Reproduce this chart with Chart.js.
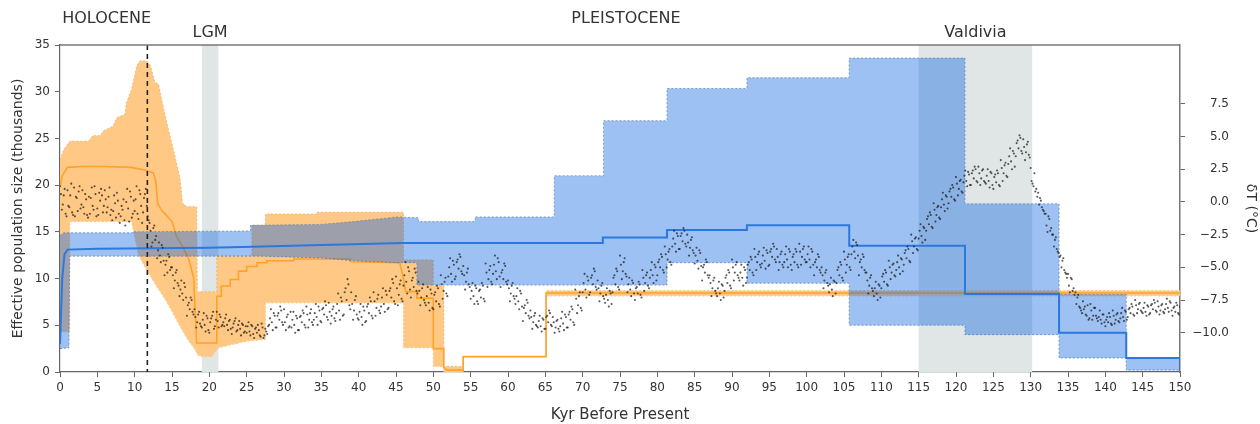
<!DOCTYPE html>
<html><head><meta charset="utf-8">
<script src="https://cdn.jsdelivr.net/npm/chart.js@4.4.1/dist/chart.umd.min.js"></script>
<style>html,body{margin:0;padding:0;background:#fff}#wrap{width:1260px;height:424px;position:relative}</style>
</head><body><div id="wrap"><canvas id="c"></canvas></div>
<script>
// ---------- data (kyr before present, value) ----------
const rightTicks = [-10, -7.5, -5, -2.5, 0, 2.5, 5, 7.5];
const eraLabels = [
  {text:'HOLOCENE', kyr:0.3, row:0, anchor:'left'},
  {text:'LGM', kyr:20.1, row:1, anchor:'center'},
  {text:'PLEISTOCENE', kyr:75.8, row:0, anchor:'center'},
  {text:'Valdivia', kyr:122.6, row:1, anchor:'center'}
];
const shadedPeriods = [[19, 21.2], [115, 130.2]];
const holoceneBoundary = 11.7;

const orangeMedian = [[0,19.8],[0.3,21.0],[1.0,21.9],[3,22.0],[6,22.0],[9.5,21.9],[11.5,21.6],[12.5,21.3],[12.8,20.5],[13.1,18.0],[13.6,17.3],[14.1,16.9],[15,16.1],[15.6,14.5],[16.3,13.6],[17.2,12.2],[17.9,10.1],[18.3,3.1],[21.0,3.1],[21.0,8.1],[21.6,8.1],[21.6,9.2],[22.8,9.2],[22.8,9.9],[23.9,9.9],[23.9,10.8],[25,10.8],[25,11.3],[26.4,11.3],[26.4,11.7],[27.7,11.7],[27.7,11.9],[31.3,11.9],[31.3,12.1],[38.9,12.1],[38.9,11.8],[45.5,11.7],[46,10.0],[46.3,8.6],[47.8,8.6],[47.8,7.9],[50,7.9],[50,2.5],[51.4,2.5],[51.4,0.5],[51.8,0.2],[54,0.2],[54,1.65],[65.1,1.65],[65.1,8.45],[150,8.45]];
const orangeUpper = [[0,22.7],[0.5,23.8],[1.3,24.7],[3.8,24.7],[4.4,25.3],[5.4,25.3],[5.8,25.8],[7.1,26.3],[7.6,27.2],[8.7,27.6],[8.9,28.8],[9.6,30.3],[10.3,32.8],[10.7,33.3],[11.6,33.3],[12.1,32.8],[12.7,31.0],[13.2,30.8],[13.6,29.2],[14.5,26.0],[15.4,23.1],[16.1,20.6],[16.4,18.1],[17.0,17.7],[18.3,17.7],[18.4,8.6],[21.0,8.6],[21.0,12.4],[25.7,12.4],[25.7,15.7],[27.5,15.7],[27.5,16.9],[34.4,16.9],[34.4,17.1],[46,17.1],[46,12.0],[50,12.0],[50,9.2],[51.4,9.2],[51.4,0.6],[54,0.6],[54,1.65],[65.1,1.65],[65.1,8.7],[150,8.7]];
const orangeLower = [[0,4.3],[1.3,4.3],[1.3,16.1],[9.6,16.1],[10.0,14.5],[10.5,12.6],[11,11.8],[12,10.4],[13,9.1],[14,7.9],[15,6.5],[16,5.0],[17,3.6],[18,2.5],[18.5,1.8],[19,1.65],[20.3,1.65],[21.2,2.6],[23.3,3.0],[25,3.3],[27.5,3.5],[27.5,7.4],[46,7.4],[46,2.6],[50,2.6],[50,0.6],[51.4,0.6],[51.4,0],[54,0],[54,1.65],[65.1,1.65],[65.1,8.15],[150,8.15]];

const blueMedian = [[0,3],[0.3,10],[0.6,12.6],[1.0,13.1],[5,13.2],[20,13.3],[25.7,13.4],[35,13.6],[46,13.8],[72.7,13.8],[72.7,14.4],[81.3,14.4],[81.3,15.2],[92,15.2],[92,15.7],[105.7,15.7],[105.7,13.5],[121.2,13.5],[121.2,8.35],[133.8,8.35],[133.8,4.2],[142.8,4.2],[142.8,1.5],[150,1.5]];
const blueUpper = [[0,14.6],[0.5,14.9],[9.8,14.9],[9.8,15.0],[25.5,15.1],[25.5,15.7],[34.9,15.8],[39.3,16.1],[45.2,16.6],[48,16.5],[48,16.1],[55.6,16.1],[55.6,16.6],[66.2,16.6],[66.2,21.0],[72.8,21.0],[72.8,26.9],[81.3,26.9],[81.3,30.35],[92,30.35],[92,31.5],[105.7,31.5],[105.7,33.6],[121.2,33.6],[121.2,18.0],[133.8,18.0],[133.8,8.3],[142.8,8.3],[142.8,1.5],[150,1.5]];
const blueLower = [[0,2.5],[1.2,2.6],[1.3,12.4],[27,12.4],[35,12.2],[39.3,11.9],[45.2,11.7],[47.8,11.7],[47.8,9.3],[81.3,9.3],[81.3,11.7],[92,11.7],[92,9.5],[105.7,9.5],[105.7,5.0],[121.2,5.0],[121.2,4.0],[133.8,4.0],[133.8,1.5],[142.8,1.5],[142.8,0.2],[150,0.2]];

// temperature anomaly (deg C), one row per kyr; samples at k + 0, .25, .5, .75
const tempRows = [
[1.2,-0.6,0.5,-0.9],[0.9,-0.4,1.4,-1.0],[-1.1,0.3,0.8,-0.5],[0.9,-0.9,0.2,-1.2],[-0.9,1.1,-0.6,0.6],
[-0.5,0.7,1.0,-0.8],[0.9,-0.8,0.4,-1.0],[-1.4,0.5,-1.2,0.1],[-1.6,-0.3,0.2,-1.8],[1.0,-1.5,0.4,-0.9],
[-0.7,1.2,-1.3,0.6],[-1.6,0.3,1.0,-1.1],[-1.6,-3.4,-2.0,-2.9],[-4.3,-3.1,-4.6,-3.5],[-5.6,-4.5,-4.0,-5.2],
[-5.0,-6.6,-5.4,-6.2],[-7.2,-6.0,-7.5,-6.5],[-8.7,-7.7,-7.3,-8.4],[-8.2,-9.6,-8.6,-9.3],[-9.6,-8.5,-9.9,-8.9],
[-10.0,-8.9,-8.4,-9.5],[-8.4,-9.6,-8.8,-9.4],[-9.5,-8.6,-9.8,-9.0],[-10.1,-9.3,-8.9,-9.8],[-9.1,-10.2,-9.4,-9.9],
[-10.0,-9.2,-10.2,-9.5],[-10.4,-9.6,-9.4,-10.2],[-9.3,-10.4,-9.7,-10.1],[-9.4,-8.2,-9.8,-8.7],[-9.6,-8.5,-8.0,-9.2],
[-8.2,-9.8,-8.6,-9.5],[-9.6,-8.4,-10.0,-8.9],[-9.8,-8.7,-8.3,-9.4],[-8.0,-9.6,-8.5,-9.2],[-9.0,-7.8,-9.4,-8.3],
[-9.2,-8.1,-7.6,-8.8],[-7.7,-9.3,-8.2,-8.9],[-8.5,-7.0,-9.0,-7.6],[-8.6,-6.6,-5.9,-7.9],[-6.9,-9.0,-7.5,-8.6],
[-9.0,-7.8,-9.4,-8.3],[-9.1,-7.8,-7.3,-8.7],[-6.9,-8.7,-7.4,-8.3],[-8.0,-6.6,-8.4,-7.1],[-8.1,-6.6,-5.9,-7.6],
[-5.7,-7.9,-6.3,-7.4],[-6.4,-4.6,-7.0,-5.3],[-7.3,-5.8,-5.1,-6.8],[-6.1,-7.9,-6.6,-7.5],[-7.9,-6.5,-8.3,-7.0],
[-8.2,-6.9,-6.4,-7.8],[-5.6,-7.4,-6.1,-7.0],[-5.7,-4.3,-6.1,-4.8],[-5.7,-4.4,-4.0,-5.3],[-4.9,-6.7,-5.4,-6.3],
[-7.4,-6.2,-7.8,-6.6],[-7.8,-6.7,-6.2,-7.4],[-4.7,-6.5,-5.2,-6.1],[-5.5,-4.1,-5.9,-4.6],[-6.5,-5.2,-4.7,-6.1],
[-6.0,-7.6,-6.4,-7.2],[-7.8,-6.6,-8.2,-7.0],[-9.1,-7.9,-7.5,-8.7],[-8.3,-9.7,-8.7,-9.4],[-9.6,-8.7,-9.9,-9.0],
[-9.7,-8.7,-8.3,-9.4],[-8.8,-10.0,-9.1,-9.7],[-9.5,-8.4,-9.8,-8.8],[-9.6,-8.4,-8.0,-9.2],[-6.7,-8.5,-7.2,-8.1],
[-6.9,-5.5,-7.3,-6.0],[-6.9,-5.6,-5.1,-6.5],[-6.0,-7.6,-6.4,-7.2],[-7.7,-6.6,-8.0,-7.0],[-6.9,-5.6,-5.1,-6.5],
[-4.1,-5.9,-4.6,-5.5],[-6.9,-5.8,-7.2,-6.2],[-7.5,-6.5,-6.1,-7.1],[-5.2,-6.8,-5.6,-6.4],[-5.8,-4.6,-6.2,-5.0],
[-5.6,-4.4,-4.0,-5.2],[-3.4,-5.0,-3.8,-4.6],[-3.4,-2.2,-3.8,-2.6],[-3.6,-2.4,-2.0,-3.2],[-2.5,-4.1,-2.9,-3.7],
[-4.7,-3.5,-5.1,-3.9],[-6.0,-4.8,-4.4,-5.6],[-5.6,-7.2,-6.0,-6.8],[-7.2,-6.1,-7.5,-6.4],[-6.8,-5.6,-5.2,-6.4],
[-4.4,-6.0,-4.8,-5.6],[-6.0,-4.8,-6.4,-5.2],[-5.8,-4.6,-4.2,-5.4],[-3.6,-5.2,-4.0,-4.8],[-4.7,-3.5,-5.1,-3.9],
[-4.8,-3.6,-3.2,-4.4],[-3.6,-5.2,-4.0,-4.8],[-4.6,-3.4,-5.0,-3.8],[-5.2,-4.0,-3.6,-4.8],[-3.2,-4.8,-3.6,-4.4],
[-4.6,-3.4,-5.0,-3.8],[-5.6,-4.4,-4.0,-5.2],[-5.0,-6.6,-5.4,-6.2],[-6.9,-5.8,-7.2,-6.1],[-6.2,-5.0,-4.6,-5.8],
[-3.8,-5.4,-4.2,-5.0],[-4.0,-2.9,-4.3,-3.3],[-5.6,-4.4,-4.0,-5.2],[-5.4,-7.0,-5.8,-6.6],[-7.2,-6.1,-7.5,-6.4],
[-6.6,-5.5,-5.2,-6.3],[-4.5,-5.9,-4.8,-5.6],[-5.2,-4.1,-5.5,-4.4],[-4.8,-3.7,-3.4,-4.5],[-2.5,-3.9,-2.8,-3.6],
[-2.8,-1.7,-3.1,-2.0],[-2.2,-1.1,-0.8,-1.9],[-0.1,-1.5,-0.4,-1.2],[-0.4,0.7,-0.7,0.4],[-0.1,1.0,1.3,0.2],
[1.9,0.5,1.6,0.8],[1.5,2.4,1.2,2.1],[1.3,2.4,2.7,1.6],[2.7,1.3,2.4,1.6],[1.4,2.5,1.1,2.2],
[1.0,2.1,2.4,1.3],[3.2,1.6,2.8,2.0],[2.9,4.1,2.5,3.7],[3.5,4.7,5.1,3.9],[4.8,3.2,4.4,3.6],
[2.6,1.4,2.2,1.0],[0.7,0.3,-0.4,-0.7],[-0.9,-2.3,-1.3,-2.0],[-2.5,-2.9,-3.6,-3.9],[-4.1,-4.5,-5.2,-5.5],
[-5.5,-6.9,-5.9,-6.6],[-6.9,-7.3,-8.0,-8.3],[-7.6,-8.0,-8.7,-9.0],[-7.8,-9.0,-8.1,-8.7],[-9.1,-8.3,-9.3,-8.6],
[-9.5,-8.8,-8.5,-9.3],[-8.3,-9.3,-8.6,-9.1],[-8.9,-8.1,-9.1,-8.4],[-8.8,-8.1,-7.8,-8.6],[-7.5,-8.5,-7.8,-8.3],
[-8.5,-7.7,-8.7,-8.0],[-8.5,-7.8,-7.5,-8.3],[-7.6,-8.6,-7.9,-8.4],[-8.2,-7.4,-8.4,-7.7],[-8.7,-8.0,-7.7,-8.5],
[-8.0]
];
// second pass of the cloud, samples at k + .125, .375, .625, .875
const tempRowsB = [
[0.6,-0.2,1.0,-1.1],[-0.3,0.5,-0.8,1.1],[0.4,-0.7,1.2,-0.2],[-0.4,0.6,-1.0,0.4],[0.3,-0.3,1.2,-1.1],
[-1.0,0.1,0.5,-0.3],[0.2,-0.4,1.1,-0.6],[-0.7,-0.1,0.7,-0.9],[-1.1,-0.6,-1.4,0.0],[-0.5,0.8,-1.2,0.1],
[0.2,-0.9,0.9,-0.3],[-0.8,0.6,-0.3,-1.4],[-2.2,-3.1,-1.8,-2.6],[-3.7,-4.1,-3.3,-4.5],[-4.8,-5.4,-4.2,-5.0],
[-5.6,-6.0,-5.2,-6.4],[-6.7,-7.0,-6.2,-7.3],[-7.9,-8.2,-7.5,-8.6],[-8.8,-9.2,-8.4,-9.5],[-9.0,-9.4,-8.7,-9.8],
[-9.2,-8.7,-9.7,-9.0],[-9.1,-8.6,-9.5,-9.2],[-8.9,-9.4,-9.1,-9.7],[-9.6,-9.1,-9.9,-9.4],[-9.7,-9.3,-10.0,-9.5],
[-9.5,-9.9,-9.4,-10.1],[-9.7,-10.0,-9.8,-10.3],[-9.6,-10.2,-9.9,-9.5],[-8.9,-9.2,-8.5,-9.6],[-8.7,-9.0,-8.3,-9.4],
[-9.2,-8.8,-9.6,-8.4],[-9.0,-9.4,-8.7,-9.8],[-8.8,-9.2,-8.5,-9.6],[-8.6,-9.0,-8.2,-9.4],[-8.5,-8.8,-8.0,-9.1],
[-8.2,-8.6,-7.9,-9.0],[-8.4,-8.7,-8.0,-9.1],[-7.8,-8.3,-7.3,-8.7],[-6.9,-7.5,-6.3,-8.2],[-7.8,-8.3,-7.2,-8.9],
[-8.4,-8.8,-8.0,-9.2],[-8.0,-8.5,-7.6,-8.9],[-7.6,-8.1,-7.1,-8.5],[-7.3,-7.8,-6.8,-8.2],[-6.8,-7.3,-6.2,-7.8],
[-6.6,-7.1,-6.0,-7.6],[-5.6,-6.1,-5.0,-6.7],[-6.0,-6.5,-5.4,-7.0],[-6.8,-7.3,-6.3,-7.7],[-7.2,-7.7,-6.7,-8.1],
[-7.1,-7.6,-6.6,-8.0],[-6.3,-6.8,-5.8,-7.2],[-5.0,-5.5,-4.5,-5.9],[-4.6,-5.1,-4.2,-5.5],[-5.6,-6.1,-5.1,-6.5],
[-6.8,-7.2,-6.4,-7.6],[-6.8,-7.3,-6.4,-7.6],[-5.4,-5.9,-4.9,-6.3],[-4.8,-5.3,-4.3,-5.7],[-5.4,-5.9,-4.9,-6.3],
[-6.6,-7.0,-6.2,-7.4],[-7.2,-7.6,-6.8,-8.0],[-8.1,-8.5,-7.7,-8.9],[-8.8,-9.2,-8.5,-9.5],[-9.1,-9.5,-8.9,-9.7],
[-8.8,-9.2,-8.5,-9.5],[-9.2,-9.6,-9.0,-9.9],[-8.9,-9.3,-8.6,-9.6],[-8.6,-9.0,-8.2,-9.4],[-7.4,-7.9,-6.9,-8.3],
[-6.2,-6.7,-5.7,-7.1],[-5.8,-6.3,-5.3,-6.7],[-6.6,-7.0,-6.2,-7.4],[-7.1,-7.5,-6.8,-7.8],[-5.8,-6.3,-5.3,-6.7],
[-4.8,-5.3,-4.3,-5.7],[-6.3,-6.7,-6.0,-7.0],[-6.6,-7.0,-6.3,-7.3],[-5.8,-6.2,-5.4,-6.6],[-5.2,-5.6,-4.8,-6.0],
[-4.6,-5.0,-4.2,-5.4],[-4.0,-4.4,-3.6,-4.8],[-2.8,-3.2,-2.4,-3.6],[-2.6,-3.0,-2.2,-3.4],[-3.1,-3.5,-2.7,-3.9],
[-4.1,-4.5,-3.7,-4.9],[-5.0,-5.4,-4.6,-5.8],[-6.2,-6.6,-5.8,-7.0],[-6.6,-7.0,-6.3,-7.3],[-5.8,-6.2,-5.4,-6.6],
[-5.0,-5.4,-4.6,-5.8],[-5.4,-5.8,-5.0,-6.2],[-4.8,-5.2,-4.4,-5.6],[-4.2,-4.6,-3.8,-5.0],[-4.1,-4.5,-3.7,-4.9],
[-3.8,-4.2,-3.4,-4.6],[-4.2,-4.6,-3.8,-5.0],[-4.0,-4.4,-3.6,-4.8],[-4.2,-4.6,-3.8,-5.0],[-3.8,-4.2,-3.4,-4.6],
[-4.0,-4.4,-3.6,-4.8],[-4.6,-5.0,-4.2,-5.4],[-5.6,-6.0,-5.2,-6.4],[-6.3,-6.7,-6.0,-7.0],[-5.2,-5.6,-4.8,-6.0],
[-4.4,-4.8,-4.0,-5.2],[-3.4,-3.8,-3.1,-4.1],[-4.6,-5.0,-4.2,-5.4],[-6.0,-6.4,-5.6,-6.8],[-6.6,-7.0,-6.3,-7.3],
[-5.7,-6.1,-5.4,-6.4],[-5.0,-5.4,-4.7,-5.7],[-4.6,-5.0,-4.3,-5.3],[-3.9,-4.3,-3.6,-4.6],[-3.0,-3.4,-2.7,-3.7],
[-2.2,-2.6,-1.9,-2.9],[-1.3,-1.7,-1.0,-2.0],[-0.6,-1.0,-0.3,-1.3],[0.2,-0.2,0.5,-0.5],[0.8,0.4,1.1,0.1],
[1.4,1.0,1.7,0.7],[2.0,1.6,2.3,1.3],[2.2,1.8,2.5,1.5],[2.2,1.8,2.5,1.5],[2.0,1.6,2.3,1.3],
[1.9,1.5,2.2,1.2],[2.6,2.2,3.0,1.9],[3.5,3.1,3.9,2.7],[4.5,4.1,4.9,3.7],[4.2,3.8,4.6,3.4],
[1.6,1.2,0.8,0.4],[-0.2,0.1,-0.6,-0.9],[-1.8,-1.1,-2.2,-2.5],[-3.4,-2.7,-3.8,-4.2],[-5.0,-4.3,-5.4,-5.8],
[-6.4,-5.8,-6.8,-7.1],[-7.8,-7.1,-8.1,-8.5],[-8.2,-8.6,-7.9,-8.9],[-8.3,-8.7,-8.1,-8.9],[-8.8,-9.0,-8.6,-9.2],
[-9.0,-9.2,-8.8,-9.4],[-8.7,-9.0,-8.5,-9.2],[-8.5,-8.8,-8.3,-9.0],[-8.2,-8.5,-8.0,-8.7],[-7.9,-8.2,-7.7,-8.4],
[-8.1,-8.4,-7.9,-8.6],[-7.9,-8.2,-7.7,-8.4],[-8.0,-8.3,-7.8,-8.5],[-7.8,-8.1,-7.6,-8.3],[-8.1,-8.4,-7.9,-8.6]
];

// ---------- build ----------
const xy = a => a.map(p => ({x: p[0], y: p[1]}));
const tempPoints = [];
tempRows.forEach((row, k) => row.forEach((v, j) => tempPoints.push({x: k + j * 0.25, y: v})));
tempRowsB.forEach((row, k) => row.forEach((v, j) => tempPoints.push({x: k + 0.125 + j * 0.25, y: v})));

Chart.defaults.font.family = '"DejaVu Sans", sans-serif';
Chart.defaults.color = '#333';

const bgPlugin = {
  id: 'bg',
  beforeDatasetsDraw(chart) {
    const {ctx, chartArea: a, scales: {x}} = chart;
    ctx.save();
    ctx.fillStyle = 'rgb(224,229,230)';
    shadedPeriods.forEach(([s, e]) => {
      const x0 = x.getPixelForValue(s), x1 = x.getPixelForValue(e);
      ctx.fillRect(x0, a.top, x1 - x0, a.bottom - a.top);
    });
    ctx.restore();
  },
  afterDatasetsDraw(chart) {
    const {ctx, chartArea: a, scales: {x}} = chart;
    ctx.save();
    const px = x.getPixelForValue(holoceneBoundary);
    ctx.strokeStyle = '#222'; ctx.lineWidth = 1.6; ctx.setLineDash([5, 4]);
    ctx.beginPath(); ctx.moveTo(px, a.top); ctx.lineTo(px, a.bottom); ctx.stroke();
    ctx.setLineDash([]);
    ctx.strokeStyle = '#777'; ctx.lineWidth = 1.5;
    ctx.beginPath(); ctx.moveTo(a.left, a.top); ctx.lineTo(a.right, a.top); ctx.stroke();
    ctx.fillStyle = '#333'; ctx.font = '16px "DejaVu Sans"'; ctx.textBaseline = 'middle';
    eraLabels.forEach(l => {
      ctx.textAlign = l.anchor;
      ctx.fillText(l.text, x.getPixelForValue(l.kyr), l.row === 0 ? 19 : 33);
    });
    ctx.restore();
  }
};

const lineDs = (data, o) => Object.assign({type: 'line', data: xy(data), pointRadius: 0, tension: 0, yAxisID: 'y'}, o);

new Chart(document.getElementById('c'), {
  type: 'line',
  data: {datasets: [
    {type: 'scatter', data: tempPoints, yAxisID: 'yT', pointRadius: 1.05, pointBackgroundColor: 'rgba(25,25,25,0.72)', pointBorderWidth: 0, order: 1},
    lineDs(blueMedian, {borderColor: '#2a78e0', borderWidth: 2, fill: false, order: 2}),
    lineDs(blueUpper, {borderColor: 'rgba(95,125,175,0.7)', borderWidth: 1, borderDash: [2, 2], fill: '+1', backgroundColor: 'rgba(10,100,225,0.40)', order: 5}),
    lineDs(blueLower, {borderColor: 'rgba(95,125,175,0.7)', borderWidth: 1, borderDash: [2, 2], fill: false, order: 5}),
    lineDs(orangeMedian, {borderColor: '#ffa229', borderWidth: 1.6, fill: false, order: 8}),
    lineDs(orangeUpper, {borderColor: 'rgba(240,175,95,0.8)', borderWidth: 1, borderDash: [2, 2], fill: '+1', backgroundColor: '#ffc985', order: 9}),
    lineDs(orangeLower, {borderColor: 'rgba(240,175,95,0.8)', borderWidth: 1, borderDash: [2, 2], fill: false, order: 9})
  ]},
  options: {
    responsive: true, maintainAspectRatio: false, animation: false, devicePixelRatio: 1,
    layout: {padding: {top: 45, left: 0, right: 31, bottom: 0}},
    plugins: {legend: {display: false}, tooltip: {enabled: false}},
    scales: {
      x: {type: 'linear', min: 0, max: 150,
        ticks: {stepSize: 5, autoSkip: false, maxRotation: 0, color: '#333', font: {size: 12}, padding: 4},
        grid: {drawOnChartArea: false, tickLength: 5, color: '#666'},
        border: {color: '#666', width: 1.2},
        title: {display: true, text: 'Kyr Before Present', color: '#333', font: {size: 15}, padding: {top: 0, bottom: 0}},
        afterFit(s) { s.height = 52; }},
      y: {position: 'left', min: 0, max: 35,
        ticks: {stepSize: 5, color: '#333', font: {size: 12}, padding: 5},
        grid: {drawOnChartArea: false, tickLength: 5, color: '#666'},
        border: {color: '#666', width: 1.2},
        title: {display: true, text: 'Effective population size (thousands)', color: '#333', font: {size: 14}, padding: {top: 10, bottom: 0}},
        afterFit(s) { s.width = 60; }},
      yT: {position: 'right', min: -13, max: 12,
        afterBuildTicks(s) { s.ticks = rightTicks.map(v => ({value: v})); },
        ticks: {color: '#333', font: {size: 12}, padding: 6, crossAlign: 'far',
          callback: v => v.toFixed(1).replace('-', '\u2212')},
        grid: {drawOnChartArea: false, tickLength: 5, color: '#666'},
        border: {color: '#777', width: 1.5},
        title: {display: true, text: '\u03b4T (\u00b0C)', color: '#333', font: {size: 14}, padding: {top: -30, bottom: 0}},
        afterFit(s) { s.width = 49; }}
    }
  },
  plugins: [bgPlugin]
});
</script></body></html>
